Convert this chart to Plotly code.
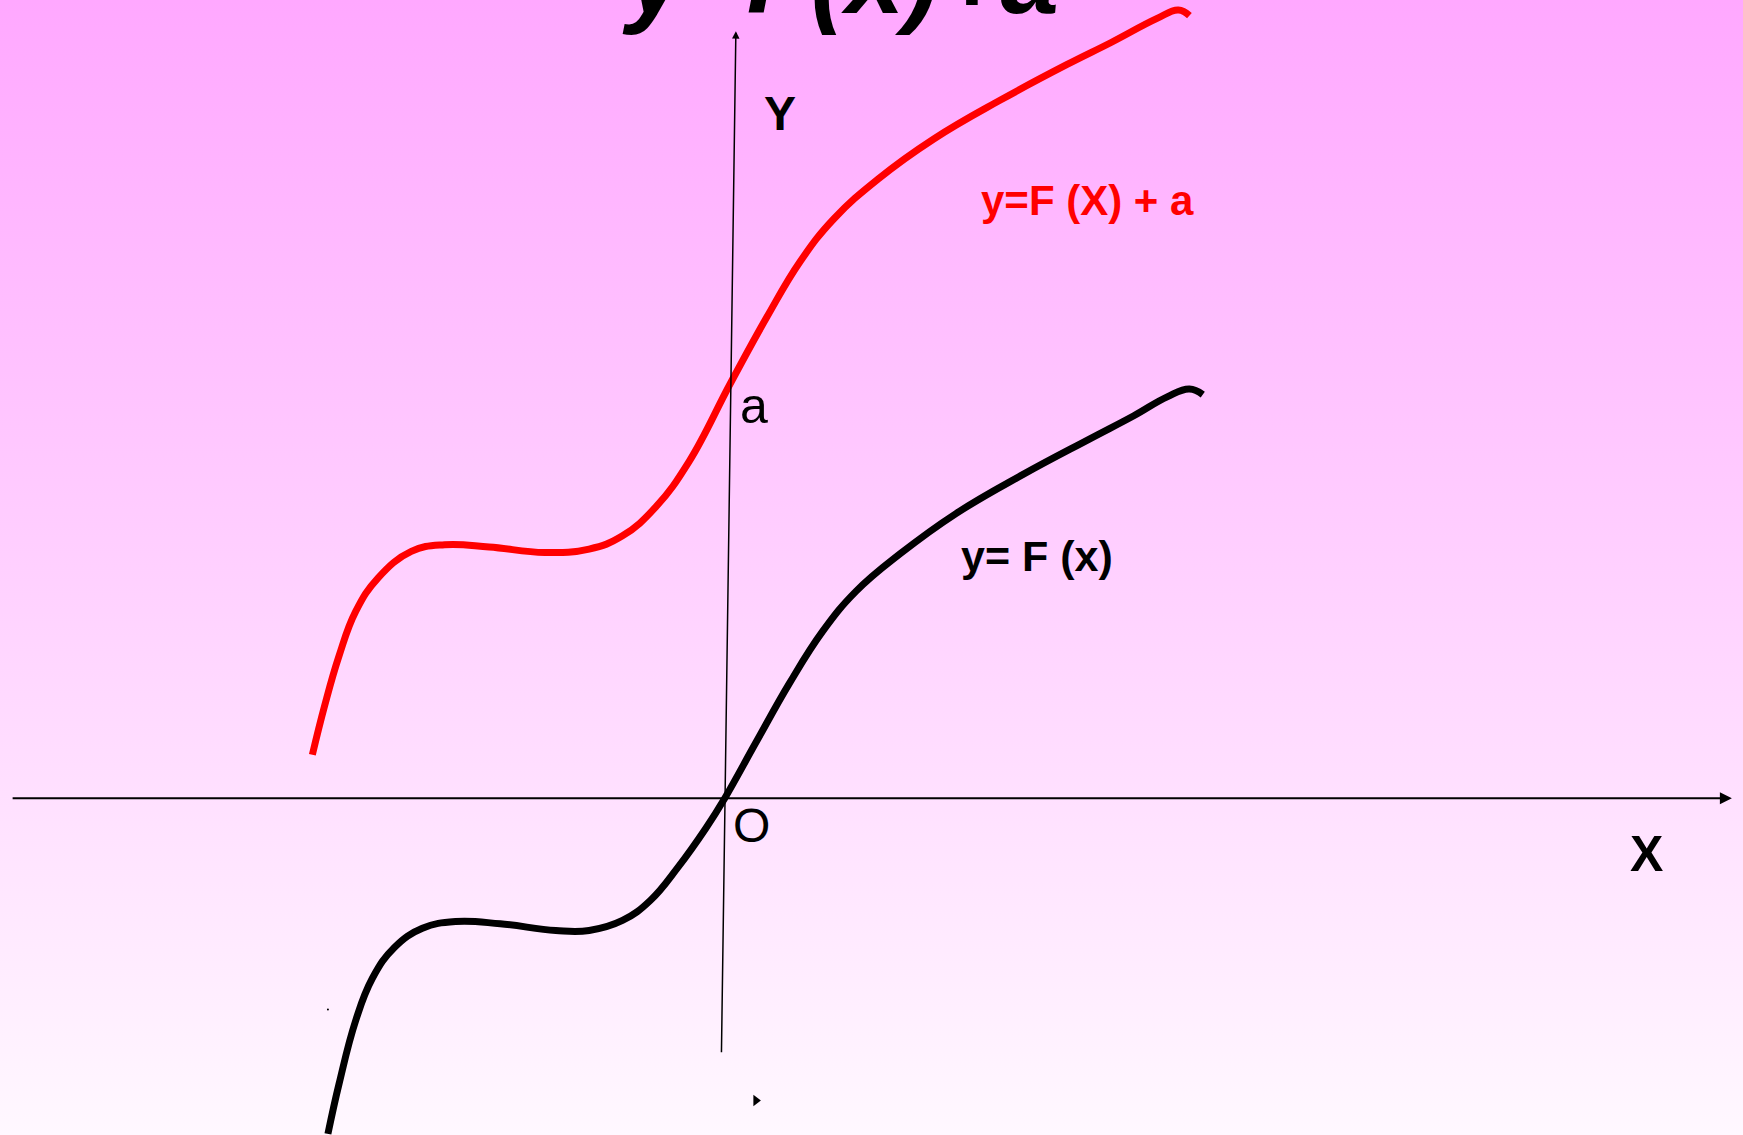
import plotly.graph_objects as go

# y = F(x)
black_x = [-3.57, -3.47, -3.32, -3.17, -2.97, -2.72, -2.42, -2.02, -1.52, -1.22,
           -0.92, -0.67, -0.42, -0.17, 0.0, 0.28, 0.58, 0.88, 1.18, 1.58,
           2.08, 2.68, 3.28, 3.68, 3.98, 4.18, 4.30]
black_y = [-3.02, -2.57, -2.00, -1.62, -1.34, -1.17, -1.11, -1.13, -1.19, -1.19,
           -1.10, -0.92, -0.62, -0.27, 0.0, 0.50, 1.03, 1.50, 1.86, 2.20,
           2.56, 2.91, 3.23, 3.44, 3.61, 3.68, 3.63]

# y = F(x) + a
red_x = [-3.71, -3.60, -3.47, -3.32, -3.12, -2.82, -2.52, -2.12, -1.62, -1.22,
         -0.92, -0.62, -0.32, 0.05, 0.38, 0.68, 0.98, 1.38, 1.88, 2.48,
         3.08, 3.48, 3.88, 4.08, 4.18]
red_y = [0.39, 0.83, 1.28, 1.68, 1.98, 2.22, 2.28, 2.26, 2.21, 2.24,
         2.36, 2.62, 3.03, 3.73, 4.33, 4.83, 5.21, 5.57, 5.93, 6.28,
         6.60, 6.80, 7.01, 7.09, 7.04]

x_range = [-6.52, 9.16]
y_range = [-3.03, 7.18]

FONT = "Liberation Sans, Arial, sans-serif"

fig = go.Figure()

# pink background fading to white
fig.add_trace(go.Scatter(
    x=[x_range[0], x_range[1], x_range[1], x_range[0], x_range[0]],
    y=[y_range[0], y_range[0], y_range[1], y_range[1], y_range[0]],
    mode="lines", line=dict(width=0), fill="toself",
    fillgradient=dict(type="vertical",
                      colorscale=[[0, "#FFF8FF"], [1, "#FFA8FF"]]),
    hoverinfo="skip", showlegend=False))

fig.add_trace(go.Scatter(x=black_x, y=black_y, mode="lines",
                         line=dict(color="black", width=7, shape="spline", smoothing=1.2),
                         showlegend=False))
fig.add_trace(go.Scatter(x=red_x, y=red_y, mode="lines",
                         line=dict(color="#FF0000", width=7, shape="spline", smoothing=1.2),
                         showlegend=False))

# stray marks on the slide
fig.add_trace(go.Scatter(x=[0.28], y=[-2.72], mode="markers",
                         marker=dict(symbol="triangle-right", size=10, color="black"),
                         showlegend=False))
fig.add_trace(go.Scatter(x=[-3.57], y=[-1.90], mode="markers",
                         marker=dict(size=2, color="black"), showlegend=False))

# axes drawn as arrows
fig.add_annotation(x=9.06, y=0, ax=-6.42, ay=0, xref="x", yref="y",
                   axref="x", ayref="y", text="", showarrow=True,
                   arrowhead=2, arrowsize=1.2, arrowwidth=2, arrowcolor="black")
fig.add_annotation(x=0.10, y=6.90, ax=-0.03, ay=-2.30, xref="x", yref="y",
                   axref="x", ayref="y", text="", showarrow=True,
                   arrowhead=2, arrowsize=1, arrowwidth=1.5, arrowcolor="black")

labels = [
    ("<b>X</b>", 8.29, -0.50, 50, "black"),
    ("<b>Y</b>", 0.50, 6.16, 48, "black"),
    ("O", 0.24, -0.25, 48, "black"),
    ("a", 0.26, 3.53, 50, "black"),
    ("<b>y=F (X) + a</b>", 3.26, 5.38, 42, "#FF0000"),
    ("<b>y= F (x)</b>", 2.81, 2.18, 43, "black"),
]
for text, lx, ly, size, color in labels:
    fig.add_annotation(x=lx, y=ly, text=text, showarrow=False,
                       font=dict(family=FONT, size=size, color=color))

# slide title, mostly cut off by the top edge
fig.add_annotation(x=0.482, y=1.0, xref="paper", yref="paper", yshift=84,
                   text="<b><i>y=F(x)+a</i></b>", showarrow=False,
                   font=dict(family=FONT, size=105, color="black"))

fig.update_layout(
    width=1743, height=1135,
    margin=dict(l=0, r=0, t=0, b=0),
    paper_bgcolor="white", plot_bgcolor="white",
    xaxis=dict(range=x_range, visible=False, fixedrange=True),
    yaxis=dict(range=y_range, visible=False, fixedrange=True),
)

fig.write_html("out.html", config={"displayModeBar": False},
               post_script="document.body.style.margin='0';document.body.style.overflow='hidden';")
